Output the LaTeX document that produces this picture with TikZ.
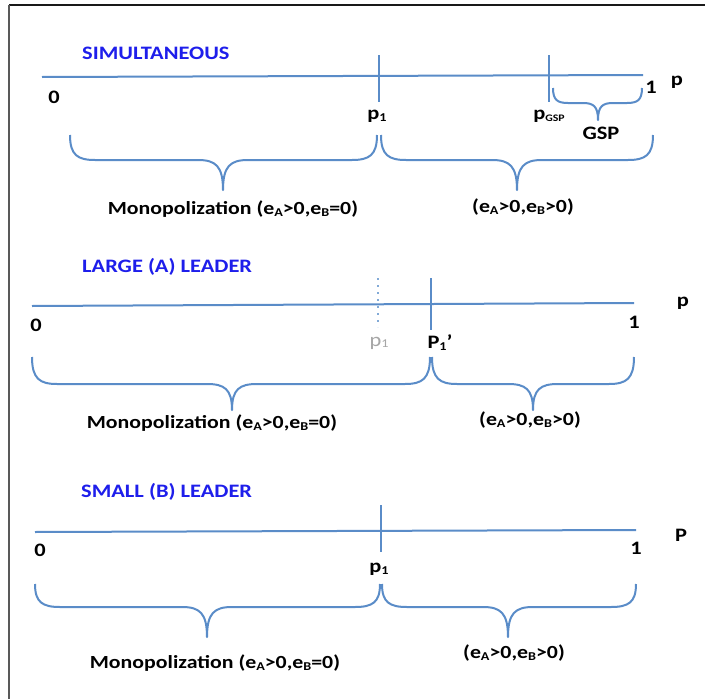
\documentclass[tikz,border=0pt]{standalone}
\usepackage{graphicx}
\usepackage{fontspec}
\setmainfont{Carlito}
\definecolor{axisblue}{RGB}{90,140,200}
\definecolor{dotblue}{RGB}{130,170,215}
\definecolor{titleblue}{RGB}{30,30,235}
\newcommand{\sbs}[1]{\raisebox{-0.2ex}{\fontsize{12}{12}\selectfont #1}}
\newcommand{\sbg}[1]{\raisebox{-0.2ex}{\fontsize{10}{10}\selectfont #1}}
\newcommand{\widetxt}[1]{\scalebox{1.18}[1]{#1}}
% brace: x1, x2, y0 (ends), y1 (flat), xm (tip x), y2 (tip y), r (corner width)
\newcommand{\cbrace}[7]{%
  \draw[brc] (#1,#3) .. controls +(0,{0.8*(#4-#3)}) and +({-0.7*#7},0) .. ({#1+#7},#4)
    -- ({#5-#7},#4) .. controls +({0.7*#7},0) and +(0,{-0.8*(#6-#4)}) .. (#5,#6)
    .. controls +(0,{-0.8*(#6-#4)}) and +({-0.7*#7},0) .. ({#5+#7},#4)
    -- ({#2-#7},#4) .. controls +({0.7*#7},0) and +(0,{0.8*(#4-#3)}) .. (#2,#3);}
\begin{document}
\begin{tikzpicture}[x=1pt,y=-1pt,
  axis/.style={draw=axisblue,line width=2pt},
  brc/.style={draw=axisblue,line width=2pt,line join=round},
  lbl/.style={font=\fontsize{19}{19}\selectfont\bfseries,inner sep=0pt},
  sml/.style={font=\fontsize{18.5}{18.5}\selectfont\bfseries,inner sep=0pt},
  ttl/.style={font=\fontsize{19}{19}\selectfont\bfseries,text=titleblue,anchor=west,inner sep=0pt}]
\useasboundingbox (0,0) rectangle (705,699);
\fill[white] (0,0) rectangle (705,699);
% frame
\draw[black!90,line width=1.6pt] (9,5) -- (705,5);
\draw[black!65,line width=1.6pt] (9,5) -- (9,699);

% ===== SIMULTANEOUS =====
\node[ttl] (t1) at (82,53) {\widetxt{SIMULTANEOUS}};
\coordinate (a1s) at (42,77); \coordinate (a1e) at (643,75);
\draw[axis] (a1s) -- (a1e);
\coordinate (k1a) at (379,55); \coordinate (k1b) at (379,102);
\draw[axis] (k1a) -- (k1b);
\coordinate (k2a) at (549,55); \coordinate (k2b) at (549,102);
\draw[axis] (k2a) -- (k2b);
\node[lbl] (z1) at (54,97) {\widetxt{0}};
\node[lbl] (o1) at (651,87) {\widetxt{1}};
\node[lbl] (p1ax) at (677,82) {\widetxt{p}};
\node[lbl] (p1l) at (377,116) {\widetxt{p\sbs{1}}};
\node[lbl] (pg) at (549,116) {\widetxt{p\sbg{GSP}}};
\cbrace{553}{642}{88}{103}{598}{120}{15}
\node[lbl] (gsp) at (601,133) {\widetxt{GSP}};
\cbrace{70}{377}{135}{160}{223}{190}{25}
\cbrace{381}{653}{135}{160}{517}{190}{25}
\node[sml] (m1) at (233,209) {\widetxt{Monopolization (e\sbs{A}>0,e\sbs{B}=0)}};
\node[sml] (b1) at (523,207) {\widetxt{(e\sbs{A}>0,e\sbs{B}>0)}};

% ===== LARGE (A) LEADER =====
\node[ttl] (t2) at (82,267) {\widetxt{LARGE (A) LEADER}};
\coordinate (a2s) at (32,306); \coordinate (a2e) at (634,303);
\draw[axis] (a2s) -- (a2e);
\coordinate (d2a) at (378,278); \coordinate (d2b) at (378,327);
\draw[draw=dotblue,line width=2pt,dash pattern=on 2pt off 5pt] (d2a) -- (d2b);
\coordinate (k3a) at (431,278); \coordinate (k3b) at (431,330);
\draw[axis] (k3a) -- (k3b);
\node[lbl] (z2) at (36,325) {\widetxt{0}};
\node[lbl] (o2) at (634,322) {\widetxt{1}};
\node[lbl] (p2ax) at (683,303) {\widetxt{p}};
\node[inner sep=0pt,font=\fontsize{19}{19}\selectfont,text=black!35] (p1g) at (379,343) {\widetxt{p\sbs{1}}};
\node[lbl] (p1p) at (440,343) {\widetxt{P\sbs{1}’}};
\cbrace{32}{430}{357}{384}{232}{410}{25}
\cbrace{432}{634}{357}{384}{533}{410}{25}
\node[sml] (m2) at (212,423) {\widetxt{Monopolization (e\sbs{A}>0,e\sbs{B}=0)}};
\node[sml] (b2) at (530,420) {\widetxt{(e\sbs{A}>0,e\sbs{B}>0)}};

% ===== SMALL (B) LEADER =====
\node[ttl] (t3) at (81,492) {\widetxt{SMALL (B) LEADER}};
\coordinate (a3s) at (35,532); \coordinate (a3e) at (636,530);
\draw[axis] (a3s) -- (a3e);
\coordinate (k4a) at (381,505); \coordinate (k4b) at (381,552);
\draw[axis] (k4a) -- (k4b);
\node[lbl] (z3) at (40,550) {\widetxt{0}};
\node[lbl] (o3) at (636,548) {\widetxt{1}};
\node[lbl] (p3ax) at (681,535) {\widetxt{P}};
\node[lbl] (p3l) at (379,569) {\widetxt{p\sbs{1}}};
\cbrace{35}{380}{584}{607}{207}{637}{25}
\cbrace{382}{636}{584}{607}{508}{637}{25}
\node[sml] (m3) at (215,663) {\widetxt{Monopolization (e\sbs{A}>0,e\sbs{B}=0)}};
\node[sml] (b3) at (514,653) {\widetxt{(e\sbs{A}>0,e\sbs{B}>0)}};
\end{tikzpicture}
\end{document}
